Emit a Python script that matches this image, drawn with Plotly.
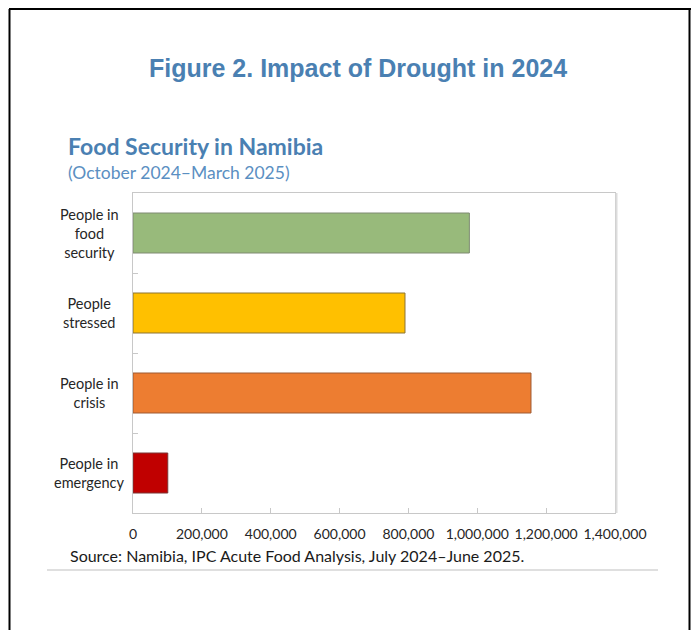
import plotly.graph_objects as go

# ---- data ----
categories = ["People in<br>food<br>security", "People<br>stressed", "People in<br>crisis", "People in<br>emergency"]
values = [977000, 790000, 1156000, 101000]
bar_colors = ["#98BA7B", "#FFC000", "#ED7D31", "#C00000"]
bar_outlines = ["#7E8A72", "#8C7433", "#9E5A33", "#7A3434"]
x_tickvals = [0, 200000, 400000, 600000, 800000, 1000000, 1200000, 1400000]
x_ticktext = ["0", "200,000", "400,000", "600,000", "800,000", "1,000,000", "1,200,000", "1,400,000"]

title_text = "Figure 2. Impact of Drought in 2024"
subtitle_text = "Food Security in Namibia"
period_text = "(October 2024–March 2025)"
source_text = "Source: Namibia, IPC Acute Food Analysis, July 2024–June 2025."

OFF = 8  # page body margin
W, H = 699 - 2 * OFF, 638 - 2 * OFF
# plot area in screen pixels
SL, SR, ST, SB = 133, 615, 193, 513
L, R, T, B = SL - OFF, SR - OFF, ST - OFF, SB - OFF


def px(x):
    return (x - SL) / (SR - SL)


def py(y):
    return (SB - y) / (SB - ST)


cat_ids = ["c0", "c1", "c2", "c3"]

fig = go.Figure()
fig.add_trace(go.Bar(
    y=cat_ids, x=values, orientation="h",
    marker=dict(color=bar_colors, line=dict(color=bar_outlines, width=1)),
    width=0.5, hoverinfo="x",
))

label_font = dict(family="Lato, 'Open Sans', sans-serif", size=14.5, color="#262626")
tick_font = dict(family="Lato, 'Open Sans', sans-serif", size=14, color="#262626")

fig.update_layout(
    width=W, height=H,
    margin=dict(l=L, r=W - R, t=T, b=H - B, pad=0),
    paper_bgcolor="white", plot_bgcolor="white",
    showlegend=False,
    xaxis=dict(
        range=[0, 1400000], tickvals=x_tickvals, ticktext=x_ticktext,
        showgrid=False, zeroline=False,
        showline=True, linecolor="#C8C8C8", linewidth=1, mirror=True,
        ticks="inside", ticklen=5, tickcolor="#C8C8C8",
        tickfont=tick_font, ticklabelstandoff=8,
    ),
    yaxis=dict(
        type="category", categoryorder="array", categoryarray=cat_ids,
        autorange="reversed",
        showgrid=False, zeroline=False,
        showline=True, linecolor="#C8C8C8", linewidth=1, mirror=True,
        ticks="inside", ticklen=5, tickcolor="#C8C8C8", tickson="boundaries",
        showticklabels=False,
    ),
)

# category labels (centered multi-line)
for cid, lab in zip(cat_ids, categories):
    fig.add_annotation(
        x=px(89), xref="paper", y=cid, yref="y", text=lab, showarrow=False,
        xanchor="center", yanchor="middle", align="center", font=label_font,
    )

fig.add_annotation(x=px(358), y=py(68), xref="paper", yref="paper", text="<b>" + title_text + "</b>",
                   showarrow=False, xanchor="center", yanchor="middle",
                   font=dict(family="Liberation Sans, Arial, sans-serif", size=25, color="#4A80B2"))
fig.add_annotation(x=px(66), y=py(146), xref="paper", yref="paper", text="<b>" + subtitle_text + "</b>",
                   showarrow=False, xanchor="left", yanchor="middle",
                   font=dict(family="Lato, sans-serif", size=23, color="#4A80B2"))
fig.add_annotation(x=px(66), y=py(172), xref="paper", yref="paper", text=period_text,
                   showarrow=False, xanchor="left", yanchor="middle",
                   font=dict(family="Lato, sans-serif", size=17.5, color="#5B8FC2"))
fig.add_annotation(x=px(68), y=py(555), xref="paper", yref="paper", text=source_text,
                   showarrow=False, xanchor="left", yanchor="middle",
                   font=dict(family="Lato, sans-serif", size=16, color="#1A1A1A"))

# frame and separator
frame = dict(color="black", width=2)
fig.add_shape(type="line", xref="paper", yref="paper", x0=px(9), x1=px(700), y0=py(9), y1=py(9), line=frame)
fig.add_shape(type="line", xref="paper", yref="paper", x0=px(9.5), x1=px(9.5), y0=py(9), y1=py(640), line=frame)
fig.add_shape(type="line", xref="paper", yref="paper", x0=px(689.5), x1=px(689.5), y0=py(9), y1=py(640), line=frame)
fig.add_shape(type="line", xref="paper", yref="paper", x0=px(47), x1=px(658), y0=py(570), y1=py(570),
              line=dict(color="#BFBFBF", width=1))
# slight shadow on plot area right edge
fig.add_shape(type="line", xref="paper", yref="paper", x0=px(616.5), x1=px(616.5), y0=py(193), y1=py(513),
              line=dict(color="#DCDCDC", width=2))

fig.write_html("out.html")
